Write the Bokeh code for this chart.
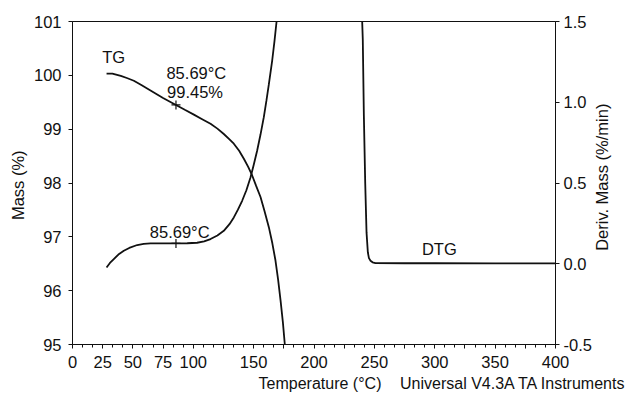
import math
from bokeh.plotting import figure
from bokeh.models import Range1d, LinearAxis, FixedTicker, NumeralTickFormatter, Label
from bokeh.embed import file_html
from bokeh.resources import INLINE

# ---- data ----
tg_temp = [28.2, 33, 40, 45, 50.8, 57, 64.6, 75, 85.7, 93, 100.5, 107, 114.3, 120,
           125.3, 130, 133.6, 138, 141.9, 145.5, 148.8, 152, 155.7, 159, 162.6,
           165.5, 168.1, 170.3, 172.3, 174.2, 175.8]
tg_mass = [100.03, 100.03, 99.99, 99.95, 99.90, 99.82, 99.72, 99.58, 99.45, 99.36,
           99.27, 99.19, 99.10, 99.01, 98.91, 98.81, 98.73, 98.60, 98.45, 98.30,
           98.14, 97.95, 97.74, 97.48, 97.18, 96.88, 96.56, 96.20, 95.82, 95.42, 95.01]

dtg_rise_temp = [28.2, 31, 34.2, 38, 42.5, 47, 53.6, 59, 64.6, 75, 85.7, 95, 103.2,
                 109, 114.3, 120, 125.3, 130, 133.6, 137, 140.5, 144, 147.4, 150,
                 152.9, 155.7, 158.4, 160.6, 162.6, 165.4, 167.3, 169]
dtg_rise_val = [-0.023, 0.005, 0.029, 0.057, 0.080, 0.098, 0.116, 0.123, 0.126, 0.126,
                0.126, 0.127, 0.130, 0.138, 0.153, 0.175, 0.204, 0.245, 0.287, 0.335,
                0.39, 0.455, 0.534, 0.61, 0.70, 0.80, 0.906, 1.01, 1.11, 1.26, 1.38, 1.5]

dtg_fall_temp = [239.9, 240.4, 241.3, 242.4, 243.5, 244.6, 245.5, 246.8, 248.5, 250.9,
                 275, 300, 350, 400]
dtg_fall_val = [1.5, 1.39, 0.916, 0.503, 0.194, 0.070, 0.035, 0.019, 0.009, 0.004,
                0.003, 0.003, 0.002, 0.002]

mark_temp = [85.69]
mark_mass = [99.45]
mark_dtg = [0.126]

x_ticks = [0, 25, 50, 75, 100, 125, 150, 175, 200, 225, 250, 275, 300, 325, 350, 375, 400]
x_hidden = [125, 175, 225, 275, 325, 375]
mass_ticks = [95, 96, 97, 98, 99, 100, 101]
dtg_ticks = [-0.5, 0.0, 0.5, 1.0, 1.5]

x_title = "Temperature (°C)"
footer = "Universal V4.3A TA Instruments"
y_title = "Mass  (%)"
y2_title = "Deriv. Mass (%/min)"

FONT = "Liberation Sans"
FS = "16.5px"
INK = "#111111"

p = figure(width=632, height=396, output_backend="svg", toolbar_location=None,
           x_range=Range1d(0, 400), y_range=Range1d(95, 101),
           min_border_left=72, min_border_right=77, min_border_top=21,
           min_border_bottom=52)
p.extra_y_ranges = {"d": Range1d(-0.5, 1.5)}
p.grid.visible = False
p.outline_line_color = INK
p.outline_line_width = 1
p.background_fill_color = "white"
p.border_fill_color = "white"

minor = [i * 25 / 3 for i in range(0, 49) if i % 3 != 0]
p.xaxis.ticker = FixedTicker(ticks=x_ticks, minor_ticks=minor)
p.xaxis.major_label_overrides = {t: "" for t in x_hidden}
p.yaxis.ticker = FixedTicker(ticks=mass_ticks, minor_ticks=[])

right = LinearAxis(y_range_name="d", ticker=FixedTicker(ticks=dtg_ticks, minor_ticks=[]),
                   formatter=NumeralTickFormatter(format="0.0"))
p.add_layout(right, "right")

for ax in [p.xaxis[0], p.yaxis[0], right]:
    ax.axis_line_color = INK
    ax.major_tick_line_color = INK
    ax.minor_tick_line_color = INK
    ax.major_tick_in = 0
    ax.major_tick_out = 4
    ax.minor_tick_in = 0
    ax.minor_tick_out = 3
    ax.major_label_text_font = FONT
    ax.major_label_text_font_size = FS
    ax.major_label_text_color = INK
p.xaxis.major_label_standoff = 7
p.yaxis.major_label_standoff = 7
right.major_label_standoff = 4

# left axis title
ly = p.yaxis[0]
ly.axis_label = y_title
ly.axis_label_text_font = FONT
ly.axis_label_text_font_size = FS
ly.axis_label_text_font_style = "normal"
ly.axis_label_text_color = INK
ly.axis_label_standoff = 4

# text-only axes used to place the bottom texts and the right title outside the frame
def text_axis(ticks, labels, **kw):
    ax = LinearAxis(ticker=FixedTicker(ticks=ticks, minor_ticks=[]),
                    major_label_overrides=dict(zip(ticks, labels)), **kw)
    ax.axis_line_color = None
    ax.major_tick_line_color = None
    ax.minor_tick_line_color = None
    ax.major_tick_in = 0
    ax.major_tick_out = 0
    ax.minor_tick_in = 0
    ax.minor_tick_out = 0
    ax.major_label_text_font = FONT
    ax.major_label_text_color = INK
    return ax

bx = text_axis([205, 365], [x_title, footer])
bx.major_label_text_font_size = "16px"
bx.major_label_standoff = 4
p.add_layout(bx, "below")

rx = text_axis([0.08], [y2_title], y_range_name="d", major_label_orientation=math.pi / 2)
rx.major_label_text_font_size = FS
rx.major_label_standoff = 8
p.add_layout(rx, "right")

p.line(tg_temp, tg_mass, line_color=INK, line_width=1.8)
p.line(dtg_rise_temp, dtg_rise_val, y_range_name="d", line_color=INK, line_width=1.8)
p.line(dtg_fall_temp, dtg_fall_val, y_range_name="d", line_color=INK, line_width=1.8)
p.scatter(mark_temp, mark_mass, marker="cross", size=9, line_color=INK, line_width=1.2)
p.scatter(mark_temp, mark_dtg, marker="cross", size=9, line_color=INK, line_width=1.2,
          y_range_name="d")

def lab(x, y, text, rng="default"):
    p.add_layout(Label(x=x, y=y, text=text, y_range_name=rng, text_align="left",
                       text_baseline="alphabetic", text_font=FONT,
                       text_font_size=FS, text_color=INK))

lab(24.6, 100.337, "TG")
lab(77.8, 100.04, "85.69°C")
lab(78.3, 99.687, "99.45%")
lab(64.0, 0.194, "85.69°C", rng="d")
lab(289.4, 0.091, "DTG", rng="d")

open("out.html", "w").write(file_html(p, INLINE))
